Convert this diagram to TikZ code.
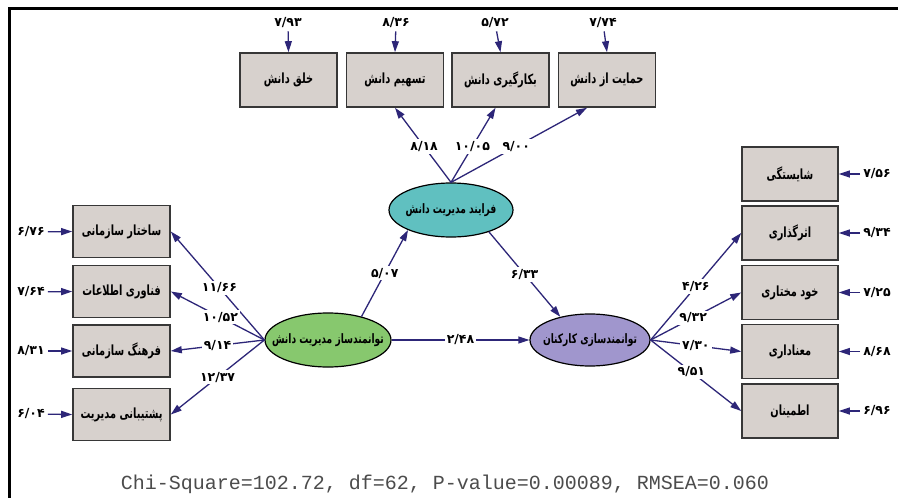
\documentclass[tikz,border=0pt]{standalone}
\usepackage{fontspec}
\setmonofont{Liberation Mono}
\newfontfamily\fa[Script=Arabic,FakeStretch=0.7]{DejaVu Sans}
\newfontfamily\fnum[Script=Arabic]{DejaVu Sans}
\TeXXeTstate=1
\usetikzlibrary{arrows.meta,shapes.geometric}
\definecolor{arrc}{RGB}{45,38,120}
\definecolor{boxfill}{RGB}{215,209,205}
\definecolor{boxline}{RGB}{55,55,55}
\definecolor{teal1}{RGB}{96,192,192}
\definecolor{green1}{RGB}{135,200,110}
\definecolor{lav1}{RGB}{160,150,205}
\begin{document}
\begin{tikzpicture}[x=1pt,y=-1pt,
  box/.style={draw=boxline,line width=1.6pt,fill=boxfill,minimum width=97pt,minimum height=54pt,inner sep=0pt,font=\fa\bfseries\fontsize{14}{16}\selectfont},
  lat/.style={ellipse,draw=black,line width=1.2pt,inner sep=0pt,font=\fa\bfseries\fontsize{13}{15}\selectfont},
  arr/.style={draw=arrc,line width=1.3pt,-{Triangle[length=11pt,width=7pt]}},
  lbl/.style={fill=white,inner sep=2pt,font=\fnum\bfseries\fontsize{12.5}{14}\selectfont},
  err/.style={inner sep=3pt,font=\fnum\bfseries\fontsize{12.5}{14}\selectfont}]
\useasboundingbox (0,0) rectangle (898,498);
\fill[white] (0,0) rectangle (898,498);
\draw[line width=3pt] (8,8.5) -- (898,8.5);
\draw[line width=3pt] (9.5,7) -- (9.5,498);

% top boxes
\node[box] (t1) at (288.5,80) {\beginR خلق دانش\endR};
\node[box] (t2) at (395,80) {\beginR تسهیم دانش\endR};
\node[box] (t3) at (500.5,80) {\beginR بکارگیری دانش\endR};
\node[box] (t4) at (607,80) {\beginR حمایت از دانش\endR};
\node[err] (et1) at (288,23) {۷/۹۳};
\node[err] (et2) at (396,23) {۸/۳۶};
\node[err] (et3) at (495,23) {۵/۷۲};
\node[err] (et4) at (603,23) {۷/۷۴};

% left boxes
\node[box,minimum height=52pt] (l1) at (121.5,231.5) {\beginR ساختار سازمانی\endR};
\node[box,minimum height=52pt] (l2) at (121.5,291.5) {\beginR فناوری اطلاعات\endR};
\node[box,minimum height=52pt] (l3) at (121.5,351) {\beginR فرهنگ سازمانی\endR};
\node[box,minimum height=52pt] (l4) at (121.5,414.5) {\beginR پشتیبانی مدیریت\endR};
\node[err] (el1) at (31,232) {۶/۷۶};
\node[err] (el2) at (31,292) {۷/۶۴};
\node[err] (el3) at (31,351) {۸/۳۱};
\node[err] (el4) at (31,414) {۶/۰۴};

% right boxes
\node[box,minimum width=96pt] (r1) at (790,174) {\beginR شایستگی\endR};
\node[box,minimum width=96pt] (r2) at (790,233) {\beginR اثرگذاری\endR};
\node[box,minimum width=96pt] (r3) at (790,292.5) {\beginR خود مختاری\endR};
\node[box,minimum width=96pt] (r4) at (790,351.5) {\beginR معناداری\endR};
\node[box,minimum width=96pt] (r5) at (790,411) {\beginR اطمینان\endR};
\node[err] (er1) at (877,174) {۷/۵۶};
\node[err] (er2) at (877,233) {۹/۳۴};
\node[err] (er3) at (877,292.5) {۷/۲۵};
\node[err] (er4) at (877,351.5) {۸/۶۸};
\node[err] (er5) at (877,411) {۶/۹۶};

% latent ellipses
\node[lat,fill=teal1,minimum width=124pt,minimum height=54pt] (fe) at (451,210) {\makebox[0pt]{\beginR فرایند مدیریت دانش\endR}};
\node[lat,fill=green1,minimum width=126pt,minimum height=54pt] (le) at (328,340) {\makebox[0pt]{\beginR توانمندساز مدیریت دانش\endR}};
\node[lat,fill=lav1,minimum width=120pt,minimum height=52pt] (re) at (590,340) {\makebox[0pt]{\beginR توانمندسازی کارکنان\endR}};

% error arrows
\foreach \i in {1,...,4} {\draw[arr] (et\i) -- (t\i.north);}
\foreach \i in {1,...,4} {\draw[arr] (el\i) -- (l\i.west);}
\foreach \i in {1,...,5} {\draw[arr] (er\i) -- (r\i.east);}

% loadings top
\draw[arr] (fe.north) -- node[lbl,pos=0.48] {۸/۱۸} (t2.south);
\draw[arr] (fe.north) -- node[lbl,pos=0.48] {۱۰/۰۵} ([xshift=-5pt]t3.south);
\draw[arr] (fe.north) -- node[lbl,pos=0.48] {۹/۰۰} ([xshift=-20pt]t4.south);

% loadings left
\draw[arr] (le.west) -- node[lbl,pos=0.48] {۱۱/۶۶} (l1.east);
\draw[arr] (le.west) -- node[lbl,pos=0.47] {۱۰/۵۲} (l2.east);
\draw[arr] (le.west) -- node[lbl,pos=0.5] {۹/۱۴} (l3.east);
\draw[arr] (le.west) -- node[lbl,pos=0.5] {۱۲/۳۷} (l4.east);

% loadings right
\draw[arr] (re.east) -- node[lbl,pos=0.5] {۴/۲۶} (r2.west);
\draw[arr] (re.east) -- node[lbl,pos=0.47] {۹/۳۲} (r3.west);
\draw[arr] (re.east) -- node[lbl,pos=0.5] {۷/۳۰} (r4.west);
\draw[arr] (re.east) -- node[lbl,pos=0.45] {۹/۵۱} (r5.west);

% structural paths
\draw[arr] (le.35) -- node[lbl,pos=0.5] {۵/۰۷} (fe.205);
\draw[arr] (fe.330) -- node[lbl,pos=0.5] {۶/۳۳} (re.142);
\draw[arr] (le.east) -- node[lbl,pos=0.5] {۲/۴۸} (re.west);

\node[font=\ttfamily\fontsize{20}{24}\selectfont,text=black!70] (fit) at (445,484) {Chi-Square=102.72, df=62, P-value=0.00089, RMSEA=0.060};
\end{tikzpicture}
\end{document}
